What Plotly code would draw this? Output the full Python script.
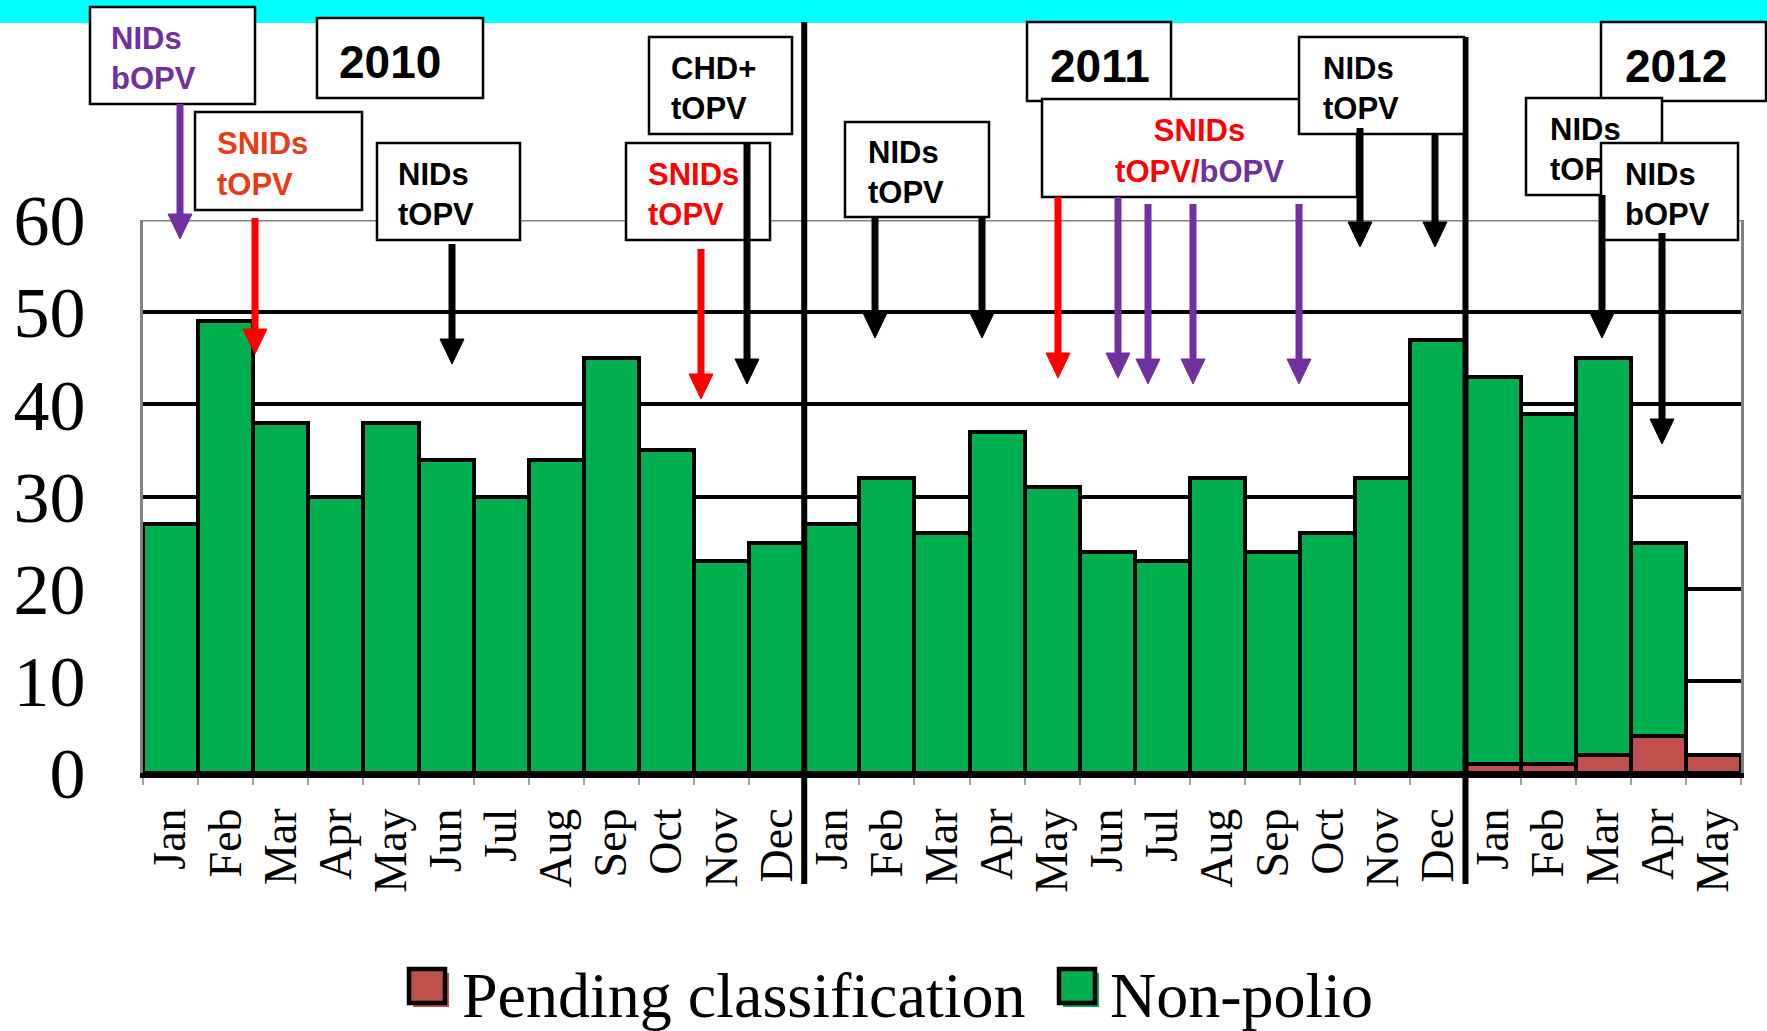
import plotly.graph_objects as go

# ---------------- data ----------------
month_labels = ["Jan", "Feb", "Mar", "Apr", "May", "Jun", "Jul", "Aug", "Sep", "Oct", "Nov", "Dec",
                "Jan", "Feb", "Mar", "Apr", "May", "Jun", "Jul", "Aug", "Sep", "Oct", "Nov", "Dec",
                "Jan", "Feb", "Mar", "Apr", "May"]
non_polio = [27, 49, 38, 30, 38, 34, 30, 34, 45, 35, 23, 25,
             27, 32, 26, 37, 31, 24, 23, 32, 24, 26, 32, 47,
             42, 38, 43, 21, 0]
pending = [0, 0, 0, 0, 0, 0, 0, 0, 0, 0, 0, 0,
           0, 0, 0, 0, 0, 0, 0, 0, 0, 0, 0, 0,
           1, 1, 2, 4, 2]
y_ticks = [0, 10, 20, 30, 40, 50, 60]
year_boundaries = [11.5, 23.5]
series_names = ["Pending classification", "Non-polio"]

# ---------------- geometry helpers ----------------
# the page body margin is removed with a post script, so the figure fills the window
W, H = 1767, 1031
PW, PH = 1598, 553
ML, MT = 143, 220
MR = W - ML - PW
MB = H - MT - PH


def px(x):  # x in screen (reference) pixels -> paper
    return (x - ML) / PW


def py(y):  # y in screen (reference) pixels -> paper
    return (MT + PH - y) / PH


GREEN = "#00B050"
RED = "#C0504D"
PURPLE = "#7030A0"
PURE_RED = "#FF0000"
ORANGE = "#E83C16"

x_idx = list(range(len(month_labels)))

fig = go.Figure()
fig.add_trace(go.Bar(x=x_idx, y=pending, name=series_names[0],
                     marker=dict(color=RED, line=dict(color="black", width=4))))
fig.add_trace(go.Bar(x=x_idx, y=non_polio, name=series_names[1],
                     marker=dict(color=GREEN, line=dict(color="black", width=4))))

shapes = []

# cyan band at top
shapes.append(dict(type="rect", xref="paper", yref="paper", x0=px(-20), x1=px(1790), y0=py(23), y1=py(-20),
                   fillcolor="#00FFFF", line=dict(width=0), layer="above"))

# top grey frame line at 60
shapes.append(dict(type="line", xref="paper", yref="y", x0=0, x1=1, y0=60, y1=60,
                   line=dict(color="#808080", width=3), layer="above"))

# year separator lines
shapes.append(dict(type="line", xref="x", yref="paper", x0=year_boundaries[0], x1=year_boundaries[0],
                   y0=py(884), y1=py(22), line=dict(color="black", width=6), layer="above"))
shapes.append(dict(type="line", xref="x", yref="paper", x0=year_boundaries[1], x1=year_boundaries[1],
                   y0=py(884), y1=py(37), line=dict(color="black", width=6), layer="above"))


def col(t, c):
    return f"<span style='color:{c}'>{t}</span>"


boxes = [
    (90, 7, 255, 104, "<b>" + col("NIDs<br>bOPV", PURPLE) + "</b>", "middle left", 31, 18),
    (317, 18, 483, 98, "<b>2010</b>", "middle left", 46, 19),
    (195, 112, 362, 210, "<b>" + col("SNIDs<br>tOPV", ORANGE) + "</b>", "middle left", 31, 19),
    (377, 143, 520, 240, "<b>NIDs<br>tOPV</b>", "middle left", 31, 18),
    (649, 37, 792, 134, "<b>CHD+<br>tOPV</b>", "middle left", 31, 19),
    (626, 143, 770, 240, "<b>" + col("SNIDs<br>tOPV", PURE_RED) + "</b>", "middle left", 31, 19),
    (845, 122, 989, 217, "<b>NIDs<br>tOPV</b>", "middle left", 31, 20),
    (1027, 22, 1171, 101, "<b>2011</b>", "middle left", 46, 20),
    (1042, 99, 1357, 197, "<b>" + col("SNIDs", PURE_RED) + "<br>" + col("tOPV/", PURE_RED) + col("bOPV", PURPLE) + "</b>",
     "middle center", 31, 3),
    (1299, 37, 1464, 134, "<b>NIDs<br>tOPV</b>", "middle left", 31, 21),
    (1601, 22, 1766, 101, "<b>2012</b>", "middle left", 46, 21),
    (1526, 98, 1662, 195, "<b>NIDs<br>tOPV</b>", "middle left", 31, 21),
    (1601, 143, 1738, 240, "<b>NIDs<br>bOPV</b>", "middle left", 31, 21),
]

arrows = [
    (180, 104, 239, PURPLE),
    (255, 218, 354, PURE_RED),
    (452, 244, 364, "black"),
    (701, 249, 399, PURE_RED),
    (747, 143, 384, "black"),
    (875, 217, 338, "black"),
    (982, 217, 338, "black"),
    (1058, 197, 378, PURE_RED),
    (1118, 197, 378, PURPLE),
    (1148, 204, 384, PURPLE),
    (1193, 204, 384, PURPLE),
    (1299, 204, 384, PURPLE),
    (1360, 128, 247, "black"),
    (1435, 134, 247, "black"),
    (1602, 195, 338, "black"),
    (1662, 233, 444, "black"),
]

HEAD_W, HEAD_L, SHAFT = 24, 25, 7

for (x0, y0, x1, y1, txt, pos, fs, pad) in boxes:
    shapes.append(dict(type="rect", xref="paper", yref="paper", x0=px(x0), x1=px(x1), y0=py(y1), y1=py(y0),
                       fillcolor="white", line=dict(color="black", width=2.5), layer="above",
                       label=dict(text=txt, textposition=pos, padding=pad,
                                  font=dict(family="Liberation Sans, Arial", size=fs, color="black"))))

for (x, ys, yt, c) in arrows:
    shapes.append(dict(type="line", xref="paper", yref="paper", x0=px(x), x1=px(x), y0=py(ys), y1=py(yt - HEAD_L + 2),
                       line=dict(color=c, width=SHAFT), layer="above"))
    path = "M {a},{b} L {c},{d} L {e},{f} Z".format(
        a=px(x - HEAD_W / 2), b=py(yt - HEAD_L), c=px(x + HEAD_W / 2), d=py(yt - HEAD_L), e=px(x), f=py(yt))
    shapes.append(dict(type="path", xref="paper", yref="paper", path=path, fillcolor=c,
                       line=dict(color=c, width=1), layer="above"))

# manual legend
legend_items = [(409, 460, RED, series_names[0]), (1059, 1108, GREEN, series_names[1])]
annotations = []
for (sx, tx, c, name) in legend_items:
    shapes.append(dict(type="rect", xref="paper", yref="paper", x0=px(sx + 4), x1=px(sx + 40), y0=py(1007), y1=py(973),
                       fillcolor=c, line=dict(width=0), layer="above"))
    shapes.append(dict(type="rect", xref="paper", yref="paper", x0=px(sx), x1=px(sx + 36), y0=py(1003), y1=py(969),
                       fillcolor=c, line=dict(color="black", width=4.5), layer="above"))
    annotations.append(dict(xref="paper", yref="paper", x=px(tx), y=py(995), xanchor="left", yanchor="middle",
                            text=name, showarrow=False,
                            font=dict(family="Liberation Serif, Times New Roman", size=64, color="black")))

fig.update_layout(
    width=W, height=H,
    margin=dict(l=ML, r=MR, t=MT, b=MB, pad=0, autoexpand=False),
    barmode="stack", bargap=0,
    paper_bgcolor="white", plot_bgcolor="white",
    showlegend=False,
    shapes=shapes,
    annotations=annotations,
)

fig.update_xaxes(
    automargin=False,
    range=[-0.5, len(month_labels) - 0.5],
    tickmode="array", tickvals=x_idx, ticktext=month_labels,
    tickangle=-90, ticks="", ticklabelstandoff=12,
    tickfont=dict(family="Liberation Serif, Times New Roman", size=46, color="black"),
    showgrid=False, zeroline=False,
    showline=True, linecolor="black", linewidth=5,
    minor=dict(tickmode="array", tickvals=[i - 0.5 for i in range(len(month_labels) + 1)],
               ticks="outside", ticklen=7, tickcolor="#A0A0A0", tickwidth=1.5),
)
fig.update_yaxes(
    automargin=False,
    range=[0, 60], tickmode="array", tickvals=y_ticks,
    tickfont=dict(family="Liberation Serif, Times New Roman", size=72, color="black"),
    ticks="", ticklabelstandoff=40,
    showgrid=True, gridcolor="black", gridwidth=3.5,
    zeroline=False,
    showline=True, linecolor="#808080", linewidth=3, mirror=True,
)

fig.write_html("out.html",
               config={"displayModeBar": False},
               post_script="document.body.style.margin='0';document.body.style.overflow='hidden';")
